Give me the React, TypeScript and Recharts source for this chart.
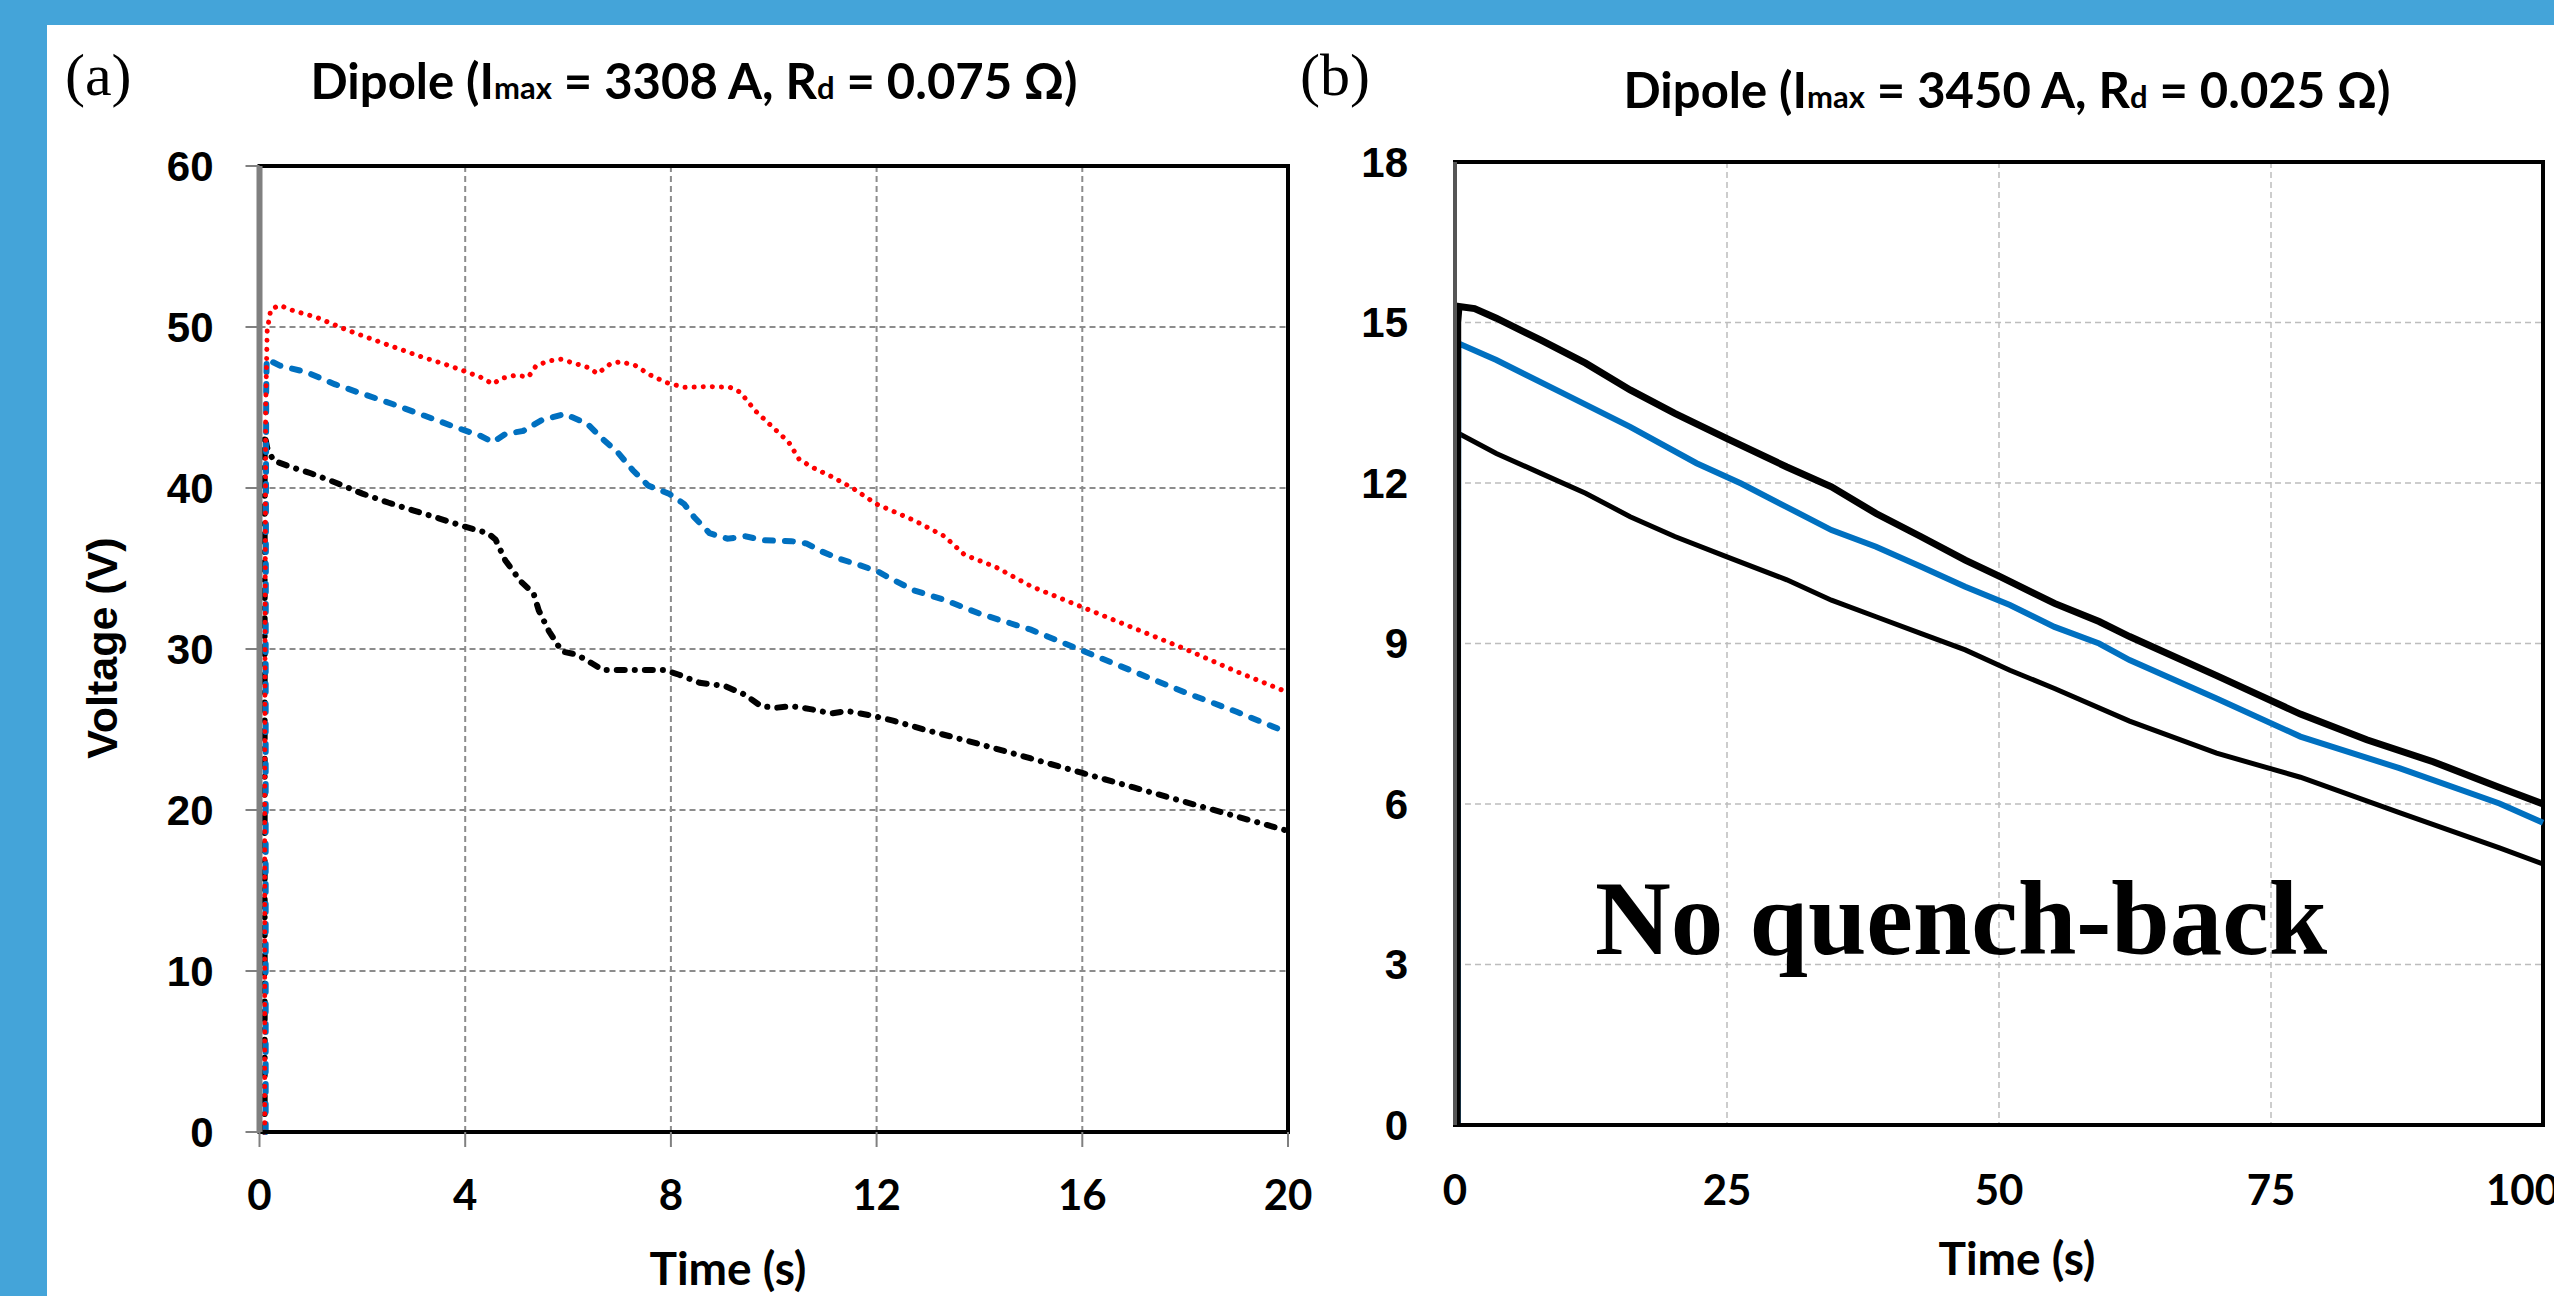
import React from 'react';
import { LineChart, Line, XAxis, YAxis, CartesianGrid, ReferenceArea } from 'recharts';

// panel (a): [time s, voltage V]
const aTicksX = [0, 4, 8, 12, 16, 20];
const aTicksY = [0, 10, 20, 30, 40, 50, 60];

const aRed = [
  [0.1, 0], [0.1, 20], [0.12, 45], [0.15, 49.8], [0.22, 51.1], [0.39, 51.35], [0.67, 51.0],
  [1.11, 50.6], [1.71, 49.8], [2.4, 49.0], [3.1, 48.2], [3.69, 47.6], [4.29, 46.9], [4.54, 46.45],
  [4.69, 46.8], [4.98, 47.0], [5.23, 46.9], [5.38, 47.6], [5.63, 47.9], [5.86, 48.0], [6.17, 47.7],
  [6.42, 47.45], [6.57, 47.1], [6.82, 47.7], [7.02, 47.85], [7.31, 47.6], [7.61, 47.0], [7.91, 46.55],
  [8.26, 46.25], [8.75, 46.3], [9.15, 46.25], [9.35, 45.95], [9.64, 44.8], [10.04, 43.6], [10.29, 42.85],
  [10.49, 41.8], [10.74, 41.3], [11.13, 40.7], [11.53, 40.0], [12.0, 39.0], [12.72, 38.0], [13.32, 37.0],
  [13.71, 35.85], [14.31, 35.1], [15.0, 33.9], [16, 32.6], [17, 31.3], [18, 30.0], [19, 28.6], [20, 27.3],
];

const aBlue = [
  [0.12, 0], [0.12, 30], [0.13, 46], [0.14, 48.0], [0.4, 47.6], [0.52, 47.5], [0.91, 47.2],
  [1.46, 46.45], [1.91, 45.95], [2.6, 45.2], [3.2, 44.5], [3.79, 43.8], [4.29, 43.25], [4.54, 42.85],
  [4.78, 43.35], [5.13, 43.55], [5.48, 44.2], [5.93, 44.6], [6.37, 44.0], [6.67, 43.05], [6.97, 42.2],
  [7.26, 41.1], [7.56, 40.15], [7.96, 39.65], [8.26, 39.0], [8.45, 38.2], [8.75, 37.2], [9.1, 36.85],
  [9.45, 37.0], [9.8, 36.75], [10.34, 36.7], [10.64, 36.55], [10.94, 36.05], [11.28, 35.6], [11.68, 35.2],
  [12.03, 34.8], [12.32, 34.3], [12.72, 33.65], [13.32, 33.05], [14.0, 32.2], [14.6, 31.6], [15.0, 31.2],
  [16, 29.9], [17, 28.6], [18, 27.3], [19, 26.1], [20, 24.8],
];

const aBlack = [
  [0.1, 0], [0.1, 43.3], [0.15, 42.5], [0.27, 41.7], [0.62, 41.3], [1.01, 40.9], [1.51, 40.3],
  [2.0, 39.65], [2.5, 39.1], [3.0, 38.6], [3.5, 38.1], [3.99, 37.6], [4.44, 37.2], [4.59, 36.8],
  [4.78, 35.5], [5.08, 34.2], [5.33, 33.45], [5.43, 32.4], [5.63, 31.1], [5.88, 29.85], [6.17, 29.65],
  [6.47, 29.1], [6.67, 28.7], [7.16, 28.7], [7.86, 28.7], [8.16, 28.4], [8.56, 27.9], [9.05, 27.7],
  [9.45, 27.15], [9.75, 26.45], [10.04, 26.35], [10.34, 26.45], [10.74, 26.25], [11.13, 26.0],
  [11.43, 26.15], [11.93, 25.85], [12.32, 25.55], [12.92, 25.0], [13.52, 24.5], [14.11, 24.0],
  [15, 23.2], [16, 22.3], [17, 21.4], [18, 20.5], [19, 19.6], [20, 18.7],
];

// panel (b)
const bTicksX = [0, 25, 50, 75, 100];
const bTicksY = [0, 3, 6, 9, 12, 15, 18];

const bTop = [
  [0.2, 0], [0.25, 15.0], [0.37, 15.3], [1.8, 15.26], [3.8, 15.08], [7.9, 14.67], [12.0, 14.24],
  [16.1, 13.74], [20.2, 13.3], [25, 12.83], [30.5, 12.3], [34.6, 11.93], [38.7, 11.43], [42.8, 11.0],
  [46.9, 10.56], [50.1, 10.25], [55.1, 9.75], [59.2, 9.41], [62.0, 9.13], [70, 8.4], [77.7, 7.68],
  [83.8, 7.2], [89.9, 6.79], [96.0, 6.31], [100, 6.0],
];

const bBlue = [
  [0.25, 0], [0.3, 14.61], [3.8, 14.3], [9.9, 13.68], [16.1, 13.05], [22.2, 12.37], [26.3, 11.99],
  [30.5, 11.55], [34.6, 11.12], [38.7, 10.81], [42.8, 10.44], [46.9, 10.06], [51.0, 9.72], [55.1, 9.31],
  [59.2, 9.0], [62.0, 8.69], [70, 7.97], [77.7, 7.26], [86.8, 6.67], [96, 6.01], [100, 5.65],
];

const bLow = [
  [0.2, 0], [0.25, 13.2], [0.3, 12.93], [3.8, 12.55], [7.9, 12.18], [12, 11.81], [16.1, 11.37],
  [20.2, 11.0], [25, 10.62], [30.5, 10.19], [34.6, 9.81], [38.7, 9.5], [42.8, 9.19], [46.9, 8.88],
  [51.0, 8.5], [55.1, 8.16], [62, 7.55], [70, 6.95], [77.7, 6.5], [86.8, 5.84], [96, 5.18], [100, 4.88],
];

const toRows = (pts: number[][]) => pts.map(([t, v]) => ({ t, v }));

const SANS = '"Liberation Sans", Arial, sans-serif';
const CAL = 'Lato, "Open Sans", sans-serif';
const SERIF = '"Liberation Serif", "Times New Roman", serif';
const BLUE_BG = '#44a4d9';

const yTick = { fontFamily: SANS, fontSize: 42, fontWeight: 700, fill: '#000' };
const xTick = { fontFamily: CAL, fontSize: 42, fontWeight: 700, fill: '#000' };

const PanelA = () => (
  <LineChart width={1340} height={1296} margin={{ top: 166, right: 52, bottom: 84, left: 139.5 }}>
    <CartesianGrid stroke="#8c8c8c" strokeWidth={2} strokeDasharray="6 4" />
    <XAxis
      type="number" dataKey="t" domain={[0, 20]} ticks={aTicksX} height={80}
      tick={xTick} tickSize={15} tickMargin={33}
      tickLine={{ stroke: '#808080', strokeWidth: 2 }}
      axisLine={{ stroke: '#000', strokeWidth: 4 }}
    />
    <YAxis
      type="number" domain={[0, 60]} ticks={aTicksY} width={120}
      tick={yTick} tickSize={14} tickMargin={32}
      tickLine={{ stroke: '#808080', strokeWidth: 2 }}
      axisLine={{ stroke: '#808080', strokeWidth: 6 }}
    />
    <Line data={toRows(aBlack)} dataKey="v" stroke="#000" strokeWidth={6} strokeLinecap="round"
      strokeDasharray="8 10 0.1 10" dot={false} isAnimationActive={false} />
    <Line data={toRows(aBlue)} dataKey="v" stroke="#0070c0" strokeWidth={6} strokeLinecap="round"
      strokeDasharray="8 12" dot={false} isAnimationActive={false} />
    <Line data={toRows(aRed)} dataKey="v" stroke="#ff0000" strokeWidth={5} strokeLinecap="round"
      strokeDasharray="0.1 9" dot={false} isAnimationActive={false} />
    <ReferenceArea x1={0} x2={20} y1={0} y2={60} fill="none" stroke="#000" strokeWidth={4} />
  </LineChart>
);

const PanelB = () => (
  <LineChart width={1254} height={1296} margin={{ top: 162, right: 11, bottom: 91, left: 55 }}>
    <CartesianGrid stroke="#bdbdbd" strokeWidth={1.5} strokeDasharray="6 4" />
    <XAxis
      type="number" dataKey="t" domain={[0, 100]} ticks={bTicksX} height={80}
      tick={xTick} tickSize={0} tickMargin={50} tickLine={false}
      axisLine={{ stroke: '#000', strokeWidth: 4 }}
    />
    <YAxis
      type="number" domain={[0, 18]} ticks={bTicksY} width={100}
      tick={yTick} tickSize={0} tickMargin={47} tickLine={false}
      axisLine={{ stroke: '#555', strokeWidth: 4 }}
    />
    <Line data={toRows(bLow)} dataKey="v" stroke="#000" strokeWidth={5} dot={false} isAnimationActive={false} />
    <Line data={toRows(bBlue)} dataKey="v" stroke="#0070c0" strokeWidth={6} dot={false} isAnimationActive={false} />
    <Line data={toRows(bTop)} dataKey="v" stroke="#000" strokeWidth={7} dot={false} isAnimationActive={false} />
    <ReferenceArea x1={0} x2={100} y1={0} y2={18} fill="none" stroke="#000" strokeWidth={4} />
  </LineChart>
);

const Title = ({ x, y, amp, res }: { x: number; y: number; amp: string; res: string }) => (
  <text x={x} y={y} textAnchor="middle" fontFamily={CAL} fontWeight={700} fontSize={49} fill="#000">
    Dipole (I<tspan fontSize={31}>max</tspan> = {amp} A, R<tspan fontSize={31}>d</tspan> = {res} Ω)
  </text>
);

export default function App() {
  return (
    <div style={{ position: 'absolute', left: 0, top: 0, width: 2554, height: 1296, background: '#fff', overflow: 'hidden' }}>
      <div style={{ position: 'absolute', left: 0, top: 0, width: 2554, height: 25, background: BLUE_BG }} />
      <div style={{ position: 'absolute', left: 0, top: 0, width: 47, height: 1296, background: BLUE_BG }} />
      <div style={{ position: 'absolute', left: 0, top: 0 }}>
        <PanelA />
      </div>
      <div style={{ position: 'absolute', left: 1300, top: 0 }}>
        <PanelB />
      </div>
      <svg width={2554} height={1296} style={{ position: 'absolute', left: 0, top: 0, pointerEvents: 'none' }}>
        <text x={65} y={95} fontFamily={SERIF} fontSize={60} fill="#000">(a)</text>
        <text x={1300} y={95} fontFamily={SERIF} fontSize={60} fill="#000">(b)</text>
        <Title x={694} y={99} amp="3308" res="0.075" />
        <Title x={2007} y={108} amp="3450" res="0.025" />
        <text x={728} y={1285} textAnchor="middle" fontFamily={CAL} fontWeight={700} fontSize={46} fill="#000">Time (s)</text>
        <text x={2017} y={1275} textAnchor="middle" fontFamily={CAL} fontWeight={700} fontSize={46} fill="#000">Time (s)</text>
        <text x={117} y={648} transform="rotate(-90 117 648)" textAnchor="middle" fontFamily={SANS} fontWeight={700} fontSize={43} fill="#000">Voltage (V)</text>
        <text x={1595} y={954} fontFamily={SERIF} fontWeight={700} fontSize={105} fill="#000">No quench-back</text>
      </svg>
    </div>
  );
}
